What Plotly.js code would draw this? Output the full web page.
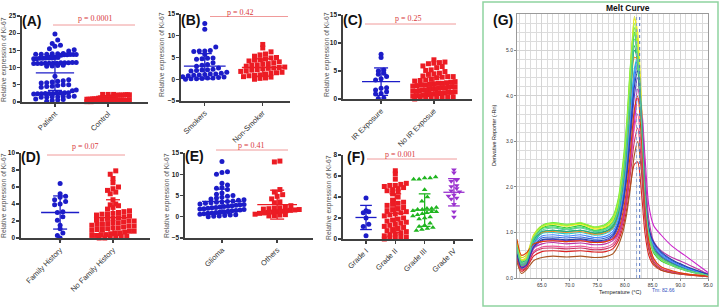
<!DOCTYPE html>
<html><head><meta charset="utf-8">
<script src="https://cdn.plot.ly/plotly-3.0.1.min.js"></script>
<style>html,body{margin:0;padding:0;background:#fff}#chart{width:720px;height:308px}</style>
</head><body><div id="chart"></div>
<script>
// ---------------- DATA ----------------
const catsA = ['Patient', 'Control'];
const patientVals = [19.8, 18.0, 17.0, 16.5, 16.2, 15.5, 15.2, 14.8,
  14.0, 13.9, 13.8, 14.1, 13.7, 13.9, 13.8, 14.0, 13.6, 13.8, 13.9, 13.7,
  12.8, 12.7, 12.9, 12.6, 12.8, 12.7, 12.9, 12.8, 12.6,
  11.4, 11.3, 11.5, 11.2, 11.3, 11.4, 11.2, 11.5, 11.3, 11.4, 11.3, 11.2,
  10.6, 10.4, 10.5, 10.7,
  7.5, 6.5, 6.2, 6.0, 5.8, 5.6, 5.5, 5.0, 5.0, 4.8, 4.6, 4.5, 4.3, 3.5, 3.3,
  2.7, 2.6, 2.5, 2.4, 2.6, 2.5, 2.3, 2.7, 2.4, 2.5,
  1.7, 1.6, 1.5, 1.4, 1.6, 1.5, 1.4,
  0.9, 0.6, 0.4, 0.2, 0.7];
const controlVals = [2.2, 2.1, 2.0, 2.1, 2.2, 2.0, 1.9, 2.1, 2.0, 2.2, 1.9, 2.0,
  1.4, 1.3, 1.2, 1.3, 1.4, 1.2, 1.3, 1.1,
  0.9, 0.8, 0.9, 0.8, 0.7, 0.9, 0.8,
  0.4, 0.3, 0.2, 0.3, 0.4, 0.2, 0.1, 0.3, 0.2, 0.1];
const meansA = [8.46, 1.0], sdsA = [5.1, 0.6];

const catsB = ['Smokers', 'Non-Smoker'];
const smokerVals = [12.8, 11.5, 7.4, 6.6, 6.5, 6.4, 6.5, 5.7, 4.8, 4.7, 4.6, 4.9, 3.8, 3.4, 3.2, 3.0, 2.6, 2.3, 2.2, 2.0,
  2.1, 1.9, 1.6, 1.4, 1.2, 1.1, 1.0, 1.2, 0.9, 0.8, 0.6, 0.5, 0.4, 0.3, 0.3, 0.2, 0.1, 0.1, 0.0];
const nonSmokerVals = [8.0, 7.2, 6.3, 5.8, 5.6, 5.3, 5.0, 4.9, 4.7, 4.5, 4.4, 4.2, 4.0, 3.8, 3.6, 3.5, 3.3, 3.2, 3.0, 2.8,
  2.7, 2.6, 2.5, 2.4, 2.2, 2.1, 1.9, 1.8, 1.6, 1.5, 1.4, 1.2, 1.0, 0.9, 0.8, 0.6, 0.5, 0.3, 0.2, 0.0];
const meansB = [3.0, 2.7], sdsB = [2.9, 2.0];

const catsC = ['IR Exposure', 'No IR Exposue'];
const irVals = [8.0, 7.4, 5.2, 5.0, 4.6, 4.4, 4.0, 3.6, 3.4, 2.0, 1.9, 1.6, 1.3, 1.0, 0.9, 0.2, 0.1];
const noIrVals = [7.0, 6.6, 6.5, 6.4, 6.3, 5.9, 5.8, 5.6, 5.2, 5.1, 4.9, 4.6, 4.5, 4.4, 4.1, 4.0, 3.9, 3.8, 4.0, 3.5,
  3.4, 3.3, 3.2, 3.0, 3.1, 2.9, 2.8, 2.8, 2.7, 2.6, 2.5, 2.5, 2.4, 2.3, 2.2, 2.2, 2.1, 2.0, 2.0, 1.9,
  1.8, 1.8, 1.7, 1.6, 1.6, 1.5, 1.4, 1.4, 1.3, 1.2, 1.2, 1.1, 1.0, 1.0, 0.9, 0.8, 0.8, 0.7, 0.6, 0.6,
  0.5, 0.4, 0.4, 0.3, 0.2, 0.2, 0.1, 0.1, 0.0];
const meansC = [3.1, 2.3], sdsC = [2.45, 1.6];

const catsD = ['Family History', 'No Family History'];
const famVals = [6.4, 5.2, 4.9, 4.8, 4.5, 4.3, 4.0, 3.9, 3.1, 3.0, 2.5, 2.1, 1.5, 1.1, 0.6, 0.3, 0.0];
const noFamVals = [7.9, 7.5, 7.0, 6.5, 6.0, 5.8, 5.6, 5.4, 5.2, 4.5, 4.0, 3.9, 3.8, 3.6, 3.4, 3.2, 3.1, 3.0, 2.9, 2.8,
  2.8, 2.7, 2.6, 2.5, 2.4, 2.3, 2.3, 2.2, 2.1, 2.0, 2.0, 1.9, 1.8, 1.8, 1.7, 1.6, 1.6, 1.5, 1.4, 1.4,
  1.3, 1.2, 1.2, 1.1, 1.0, 1.0, 0.9, 0.8, 0.8, 0.7, 0.6, 0.6, 0.5, 0.4, 0.4, 0.3, 0.3, 0.2, 0.2, 0.1, 0.1, 0.0, 0.0];
const meansD = [3.0, 2.4], sdsD = [1.95, 2.1];

const catsE = ['Glioma', 'Others'];
const gliomaVals = [13.0, 10.6, 10.4, 10.0, 7.9, 7.5, 6.9, 6.7, 6.4, 5.6, 5.3, 5.0, 4.8, 4.6, 4.4, 4.2, 4.0, 3.9, 3.7, 3.6,
  3.5, 3.4, 3.3, 3.2, 3.0, 2.9, 2.8, 2.7, 2.6, 2.5, 2.4, 2.3, 2.2, 2.1, 2.0, 1.9, 1.8, 1.7, 1.6, 1.5,
  1.4, 1.3, 1.2, 1.1, 1.0, 0.9, 0.8, 0.7, 0.6, 0.5, 0.4, 0.3, 0.2, 0.1, 0.0];
const otherVals = [13.1, 12.9, 6.4, 5.8, 5.2, 4.8, 4.2, 3.5, 3.3, 2.6, 2.2, 2.1, 2.0, 1.9, 1.8, 1.7, 1.6, 1.5, 1.4, 1.3,
  1.2, 1.1, 1.0, 0.9, 0.8, 0.6, 0.5, 0.4, 0.3, 0.2];
const meansE = [3.6, 2.85], sdsE = [2.9, 3.4];

const catsF = ['Grade I', 'Grade II', 'Grade III', 'Grade IV'];
const grade1Vals = [3.9, 2.7, 2.6, 2.5, 2.0, 1.4, 1.2, 0.3];
const grade2Vals = [6.5, 6.2, 5.7, 5.3, 5.2, 5.1, 5.1, 5.0, 4.9, 4.8, 4.7, 4.6, 4.5, 4.3, 4.0, 3.7, 3.5, 3.4, 3.3, 3.2,
  3.0, 2.9, 2.8, 2.7, 2.6, 2.5, 2.4, 2.3, 2.2, 2.0, 1.9, 1.8, 1.7, 1.6, 1.5, 1.4, 1.3, 1.2, 1.1, 1.0,
  0.9, 0.8, 0.7, 0.6, 0.5, 0.4, 0.3, 0.2, 0.2, 0.1, 0.1, 0.0];
const grade3Vals = [5.9, 5.8, 5.8, 5.7, 5.7, 4.7, 4.0, 3.6, 3.0, 2.9, 2.9, 2.8, 2.8, 2.7, 2.6, 2.6, 2.5, 2.4, 2.3, 2.2,
  2.1, 2.0, 1.9, 1.5, 1.3, 1.2, 1.1, 1.0, 0.9, 0.8];
const grade4Vals = [6.6, 6.3, 5.6, 5.5, 5.1, 5.0, 4.8, 4.6, 4.5, 4.2, 4.1, 3.9, 3.8, 3.3, 2.6, 2.1];
const meansF = [2.05, 2.45, 2.75, 4.45], sdsF = [1.15, 1.85, 1.55, 1.3];

const pTexts = ['p = 0.0001', 'p = 0.42', 'p = 0.25', 'p = 0.07', 'p = 0.41', 'p = 0.001'];
const panelLabels = ['(A)', '(B)', '(C)', '(D)', '(E)', '(F)', '(G)'];
const yTitle = 'Relative expression of Ki-67';

// Melt curve (panel G)
const meltTemps = [60.5, 61.3, 62.2, 63.5, 65, 67, 69.5, 72, 74.5, 76.5, 77.8, 78.8, 79.6, 80.3, 81.0, 81.7, 82.3, 83.0, 83.6, 84.3, 85.2, 86.5, 88.5, 91, 95];
const melt01 = [0.70,0.35,0.40,0.85,1.10,1.15,1.10,1.15,1.05,1.10,1.25,1.55,2.20,3.00,4.30,5.40,4.90,3.50,1.95,1.00,0.60,0.42,0.30,0.18,0.06];
const melt02 = [0.80,0.45,0.50,0.95,1.15,1.20,1.15,1.20,1.10,1.15,1.30,1.65,2.35,3.20,4.60,5.75,5.20,3.70,2.05,1.05,0.62,0.44,0.31,0.19,0.06];
const melt03 = [0.60,0.25,0.30,0.75,1.00,1.05,1.02,1.05,0.98,1.02,1.15,1.45,2.05,2.85,4.05,5.10,4.65,3.35,1.90,0.95,0.55,0.38,0.27,0.16,0.05];
const melt04 = [0.75,0.30,0.35,0.90,1.15,1.22,1.18,1.20,1.12,1.18,1.35,1.75,2.50,3.40,4.70,5.50,4.70,3.20,1.75,0.92,0.58,0.40,0.28,0.17,0.06];
const melt05 = [0.65,0.30,0.35,0.80,0.98,1.00,0.97,1.00,0.94,0.98,1.08,1.35,1.85,2.55,3.60,4.60,4.85,3.60,2.00,1.05,0.70,0.50,0.34,0.21,0.07];
const melt06 = [0.55,0.25,0.30,0.70,0.88,0.90,0.88,0.90,0.85,0.88,0.97,1.22,1.70,2.35,3.35,4.35,4.70,3.55,2.00,1.10,0.75,0.55,0.38,0.24,0.08];
const melt07 = [0.50,0.22,0.28,0.65,0.82,0.85,0.82,0.84,0.80,0.82,0.90,1.12,1.55,2.15,3.05,4.00,4.40,3.45,2.00,1.05,0.68,0.48,0.33,0.20,0.06];
const melt08 = [0.60,0.30,0.35,0.70,0.80,0.82,0.80,0.82,0.78,0.80,0.86,1.00,1.30,1.75,2.50,3.40,3.95,3.70,2.70,1.60,1.15,0.95,0.70,0.48,0.12];
const melt09 = [0.40,0.15,0.22,0.48,0.58,0.60,0.58,0.60,0.57,0.58,0.64,0.82,1.10,1.50,2.05,2.50,2.55,1.85,1.00,0.50,0.28,0.17,0.11,0.07,0.03];
const melt10 = [0.80,0.40,0.45,0.85,1.00,1.02,1.00,1.02,0.96,1.00,1.10,1.40,1.95,2.70,3.85,4.85,4.80,3.45,1.95,1.00,0.62,0.44,0.30,0.18,0.06];
const melt11 = [0.35,0.10,0.18,0.38,0.45,0.48,0.46,0.48,0.45,0.47,0.53,0.72,1.00,1.40,2.00,2.70,3.00,2.30,1.30,0.62,0.32,0.18,0.11,0.07,0.03];
const melt12 = [0.50,0.20,0.26,0.58,0.68,0.70,0.68,0.70,0.66,0.68,0.75,0.95,1.30,1.80,2.55,3.30,3.60,2.75,1.55,0.75,0.40,0.24,0.15,0.09,0.04];
const melt13 = [0.75,0.40,0.45,0.92,1.12,1.18,1.14,1.18,1.08,1.12,1.25,1.60,2.25,3.10,4.45,5.70,5.40,3.80,2.10,1.05,0.62,0.43,0.30,0.18,0.06];
const melt14 = [0.70,0.35,0.40,0.82,1.02,1.05,1.02,1.05,0.99,1.03,1.12,1.42,2.00,2.80,3.95,5.00,4.85,3.50,1.95,1.00,0.64,0.46,0.32,0.20,0.07];
const melt15 = [0.60,0.28,0.33,0.76,0.92,0.95,0.92,0.95,0.89,0.92,1.02,1.28,1.78,2.45,3.50,4.50,4.80,3.55,2.00,1.08,0.72,0.52,0.36,0.22,0.07];
const melt16 = [0.55,0.25,0.30,0.65,0.75,0.78,0.75,0.77,0.73,0.75,0.82,0.98,1.30,1.80,2.60,3.60,4.15,3.60,2.40,1.30,0.80,0.60,0.45,0.32,0.09];
const melt17 = [0.65,0.28,0.33,0.85,1.08,1.12,1.08,1.12,1.04,1.08,1.22,1.55,2.20,3.00,4.25,5.35,4.85,3.45,1.92,0.98,0.60,0.42,0.29,0.17,0.06];
const melt18 = [0.45,0.18,0.24,0.55,0.65,0.66,0.64,0.66,0.62,0.64,0.70,0.88,1.20,1.65,2.30,3.00,3.30,2.50,1.40,0.68,0.36,0.21,0.13,0.08,0.04];
const melt19 = [0.78,0.38,0.42,0.90,1.14,1.20,1.16,1.22,1.12,1.16,1.32,1.70,2.40,3.30,4.65,5.60,4.95,3.45,1.90,0.96,0.58,0.40,0.28,0.17,0.06];
const melt20 = [0.52,0.22,0.28,0.68,0.84,0.86,0.84,0.86,0.82,0.84,0.93,1.18,1.62,2.25,3.20,4.20,4.55,3.50,2.00,1.12,0.78,0.58,0.40,0.26,0.08];
const melt21 = [0.85,0.50,0.55,0.75,0.80,0.82,0.80,0.82,0.78,0.80,0.86,1.05,1.42,1.95,2.80,3.70,4.00,3.00,1.70,0.82,0.43,0.25,0.16,0.09,0.04];
const melt22 = [0.68,0.32,0.38,0.88,1.05,1.10,1.06,1.10,1.02,1.06,1.18,1.50,2.12,2.95,4.15,5.25,4.80,3.40,1.90,0.98,0.60,0.42,0.29,0.17,0.06];
const meltCurves = [melt01, melt02, melt03, melt04, melt05, melt06, melt07, melt08, melt09, melt10, melt11,
  melt12, melt13, melt14, melt15, melt16, melt17, melt18, melt19, melt20, melt21, melt22];
const meltColors = ['#33cc33','#ccdd22','#22bb44','#66ee33','#22cccc','#3366dd','#6633cc','#cc22cc','#dd2222','#ee8822','#aa5522',
  '#ee5599','#eeee22','#22aa88','#4488ff','#bb33aa','#44dd66','#cc3366','#99ee44','#2244aa','#dd4400','#55cc99'];
const tmLines = [82.1, 82.66];
const tmLabel = 'Tm: 82.66';

// ---------------- DRAWING ----------------
const W = 720, H = 308;
const fx = x => x / W, fy = y => 1 - y / H;
const blue = '#1c1cc8', red = '#ec1c24', green = '#1fb51f', purple = '#9a32cf';

const panels = [
  {xd:[22,148], yd:[102,16], xr:[-0.62,1.75], yr:[0,25], dt:5, cats:catsA, vals:[patientVals, controlVals], means:meansA, sds:sdsA,
   sym:['circle','square'], col:[blue, red], p:{tx:95, ty:19, ly:25, lx:[53,135]}, lab:[31,21], yt:[4,60]},
  {xd:[181,290], yd:[101,14], xr:[-0.41,1.47], yr:[-5,15], dt:5, cats:catsB, vals:[smokerVals, nonSmokerVals], means:meansB, sds:sdsB,
   sym:['circle','square'], col:[blue, red], p:{tx:240, ty:12, ly:16.5, lx:[210,288]}, lab:[190,20], yt:[162,55]},
  {xd:[343,472], yd:[99,15], xr:[-0.72,1.72], yr:[0,15], dt:5, cats:catsC, vals:[irVals, noIrVals], means:meansC, sds:sdsC,
   sym:['circle','square'], col:[blue, red], p:{tx:408, ty:19, ly:24, lx:[365,456]}, lab:[352,20], yt:[327,55]},
  {xd:[21,150], yd:[238,153], xr:[-0.74,1.70], yr:[0,10], dt:2, cats:catsD, vals:[famVals, noFamVals], means:meansD, sds:sdsD,
   sym:['circle','square'], col:[blue, red], p:{tx:85, ty:146, ly:155, lx:[47,125]}, lab:[30,157], yt:[4,196]},
  {xd:[185,313], yd:[238,153], xr:[-0.67,1.65], yr:[-5,15], dt:5, cats:catsE, vals:[gliomaVals, otherVals], means:meansE, sds:sdsE,
   sym:['circle','square'], col:[blue, red], p:{tx:252, ty:145, ly:150, lx:[216,288]}, lab:[194,156], yt:[167,196]},
  {xd:[343,473], yd:[239,155], xr:[-0.785,3.65], yr:[0,8], dt:2, cats:catsF, vals:[grade1Vals, grade2Vals, grade3Vals, grade4Vals], means:meansF, sds:sdsF,
   sym:['circle','square','triangle-up','triangle-down'], col:[blue, red, green, purple], p:{tx:400, ty:154, ly:159, lx:[367,457]}, lab:[356,157], yt:[329,198]}
];

// GraphPad-like scatter layout: points binned into pixel rows and spread symmetrically
function swarm(vals, center, pxX, pxY, d, maxHalf) {
  const rows = {};
  vals.forEach((v, i) => { const r = Math.round(v * pxY / d); (rows[r] = rows[r] || []).push(i); });
  const xs = new Array(vals.length);
  Object.keys(rows).forEach(r => {
    const idx = rows[r].sort((a, b) => vals[a] - vals[b]);
    const n = idx.length;
    const step = n > 1 ? Math.min(d * 1.1, 2 * maxHalf / (n - 1)) : 0;
    idx.forEach((pi, j) => {
      xs[pi] = center + ((j - (n - 1) / 2) * step) / pxX;
    });
  });
  return xs;
}

const traces = [], annotations = [], shapes = [];
const layout = {
  width: W, height: H, margin: {l:0, r:0, t:0, b:0}, showlegend: false,
  paper_bgcolor: '#fff', plot_bgcolor: 'rgba(0,0,0,0)', font: {family: 'Liberation Sans, Arial, sans-serif'}
};

panels.forEach((p, i) => {
  const ax = i === 0 ? '' : String(i + 1);
  const pxX = (p.xd[1] - p.xd[0]) / (p.xr[1] - p.xr[0]);
  const pxY = (p.yd[0] - p.yd[1]) / (p.yr[1] - p.yr[0]);
  layout['xaxis' + ax] = {
    domain: [fx(p.xd[0]), fx(p.xd[1])], range: p.xr, anchor: 'y' + ax,
    tickvals: p.cats.map((c, k) => k), ticktext: p.cats, tickangle: -45,
    showgrid: false, zeroline: false, showline: true, linecolor: '#404040', linewidth: 1.6,
    ticks: 'outside', ticklen: 3, tickwidth: 1.3, tickcolor: '#404040',
    tickfont: {family: 'Liberation Sans, Arial', size: 7.5, color: '#333'}, fixedrange: true
  };
  layout['yaxis' + ax] = {
    domain: [fy(p.yd[0]), fy(p.yd[1])], range: p.yr, anchor: 'x' + ax, dtick: p.dt, tick0: 0,
    showgrid: false, zeroline: false, showline: true, linecolor: '#404040', linewidth: 1.6,
    ticks: 'outside', ticklen: 3, tickwidth: 1.3, tickcolor: '#404040',
    tickfont: {family: 'Liberation Sans, Arial', size: 6.5, color: '#222', weight: 'bold'}, fixedrange: true
  };
  const maxHalf = 0.4 * pxX;
  p.vals.forEach((v, g) => {
    const xs = swarm(v, g, pxX, pxY, 5, maxHalf);
    traces.push({type: 'scatter', mode: 'markers', x: xs, y: v, xaxis: 'x' + ax, yaxis: 'y' + ax,
      marker: {symbol: p.sym[g], size: 5, color: p.col[g], line: {width: 0}}, cliponaxis: false, hoverinfo: 'skip'});
    const m = p.means[g], s = p.sds[g];
    const hw = 0.36, cw = Math.min(7, 0.2 * pxX) / pxX;
    traces.push({type: 'scatter', mode: 'lines', xaxis: 'x' + ax, yaxis: 'y' + ax, cliponaxis: false, hoverinfo: 'skip',
      x: [g - hw, g + hw, null, g, g, null, g - cw, g + cw, null, g - cw, g + cw],
      y: [m, m, null, m - s, m + s, null, m + s, m + s, null, m - s, m - s],
      line: {color: p.col[g], width: 1.3}});
  });
  shapes.push({type: 'line', xref: 'paper', yref: 'paper', x0: fx(p.p.lx[0]), x1: fx(p.p.lx[1]), y0: fy(p.p.ly), y1: fy(p.p.ly),
    line: {color: '#f09a9a', width: 1}});
  annotations.push({xref: 'paper', yref: 'paper', x: fx(p.p.tx), y: fy(p.p.ty), text: pTexts[i], showarrow: false,
    font: {family: 'Liberation Serif, Times New Roman, serif', size: 8, color: '#d83a3a'}, xanchor: 'center', yanchor: 'middle'});
  annotations.push({xref: 'paper', yref: 'paper', x: fx(p.lab[0]), y: fy(p.lab[1]), text: '<b>' + panelLabels[i] + '</b>', showarrow: false,
    font: {family: 'Liberation Sans, Arial', size: 14, color: '#111'}, xanchor: 'center', yanchor: 'middle'});
  annotations.push({xref: 'paper', yref: 'paper', x: fx(p.yt[0]), y: fy(p.yt[1]), text: yTitle, textangle: -90, showarrow: false,
    font: {family: 'Liberation Sans, Arial', size: 6.8, color: '#555'}, xanchor: 'center', yanchor: 'middle'});
});

// ---------- Panel G: melt curve ----------
layout.xaxis7 = {
  domain: [fx(517), fx(708)], range: [60.5, 95], anchor: 'y7', tick0: 60, dtick: 5, tickformat: '.1f',
  showgrid: true, gridcolor: '#d4d4d4', gridwidth: 1, zeroline: false,
  minor: {dtick: 1, showgrid: true, gridcolor: '#dcdcdc', gridwidth: 1},
  showline: true, mirror: true, linecolor: '#9a9a9a', linewidth: 1,
  ticks: 'outside', ticklen: 2, tickcolor: '#888', tickfont: {size: 5, color: '#333'}, fixedrange: true
};
layout.yaxis7 = {
  domain: [fy(278), fy(14)], range: [0, 5.8], anchor: 'x7', tick0: 0, dtick: 1, tickformat: '.1f',
  showgrid: true, gridcolor: '#d4d4d4', gridwidth: 1, zeroline: false,
  minor: {dtick: 0.2, showgrid: true, gridcolor: '#dcdcdc', gridwidth: 1},
  showline: true, mirror: true, linecolor: '#9a9a9a', linewidth: 1,
  ticks: 'outside', ticklen: 2, tickcolor: '#888', tickfont: {size: 5, color: '#333'}, fixedrange: true
};
meltCurves.forEach((c, k) => {
  traces.push({type: 'scatter', mode: 'lines', x: meltTemps, y: c, xaxis: 'x7', yaxis: 'y7', hoverinfo: 'skip',
    line: {color: meltColors[k], width: 1.1, shape: 'spline', smoothing: 0.7}});
});
tmLines.forEach((t, k) => {
  shapes.push({type: 'line', xref: 'x7', yref: 'y7', x0: t, x1: t, y0: 0, y1: 5.8,
    line: {color: k ? '#4a6fc0' : '#8aa0d0', width: 1, dash: 'dot'}});
});
shapes.push({type: 'rect', xref: 'paper', yref: 'paper', x0: fx(483), x1: fx(718), y0: fy(306), y1: fy(2),
  line: {color: '#8fd3a0', width: 1.5}, fillcolor: 'rgba(0,0,0,0)'});
annotations.push({xref: 'paper', yref: 'paper', x: fx(628), y: fy(8), text: '<b>Melt Curve</b>', showarrow: false,
  font: {family: 'Liberation Sans, Arial', size: 8.5, color: '#111'}, xanchor: 'center', yanchor: 'middle'});
annotations.push({xref: 'paper', yref: 'paper', x: fx(503), y: fy(20), text: '<b>' + panelLabels[6] + '</b>', showarrow: false,
  font: {family: 'Liberation Sans, Arial', size: 14, color: '#111'}, xanchor: 'center', yanchor: 'middle'});
annotations.push({xref: 'paper', yref: 'paper', x: fx(620), y: fy(292), text: 'Temperature (°C)', showarrow: false,
  font: {family: 'Liberation Sans, Arial', size: 5.5, color: '#222'}, xanchor: 'center', yanchor: 'middle'});
annotations.push({xref: 'paper', yref: 'paper', x: fx(650), y: fy(290), text: tmLabel, showarrow: false,
  font: {family: 'Liberation Sans, Arial', size: 5, color: '#3050c0'}, xanchor: 'left', yanchor: 'middle'});
annotations.push({xref: 'paper', yref: 'paper', x: fx(494), y: fy(135), text: 'Derivative Reporter (-Rn)', textangle: -90, showarrow: false,
  font: {family: 'Liberation Sans, Arial', size: 5.5, color: '#222'}, xanchor: 'center', yanchor: 'middle'});

layout.annotations = annotations;
layout.shapes = shapes;
Plotly.newPlot('chart', traces, layout, {staticPlot: true, displayModeBar: false});
</script>
</body></html>
